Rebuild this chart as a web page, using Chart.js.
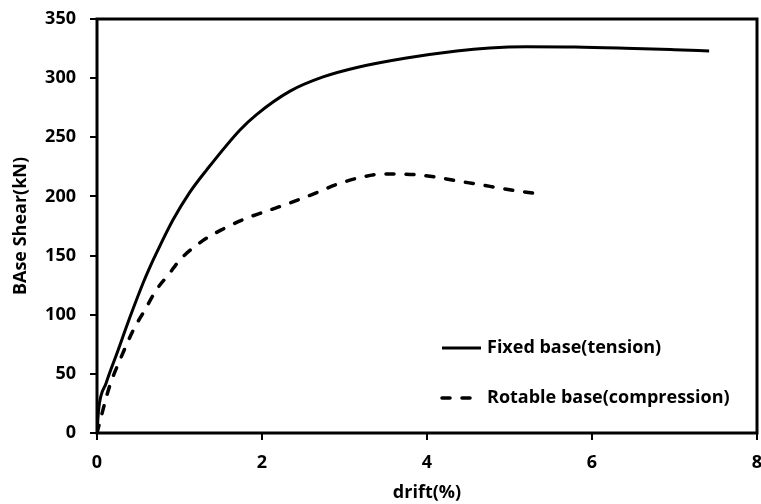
<!DOCTYPE html>
<html>
<head>
<meta charset="utf-8">
<script src="https://cdn.jsdelivr.net/npm/chart.js@4.4.1/dist/chart.umd.min.js"></script>
<style>
  html, body { margin: 0; padding: 0; background: #fff; }
  #wrap { width: 761px; height: 504px; }
</style>
</head>
<body>
<div id="wrap"><canvas id="grafico" width="761" height="504"></canvas></div>
<script>
// datos
const fixedDrift = [0, 0.02, 0.11, 0.24, 0.40, 0.56, 0.64, 0.72, 0.92, 1.12, 1.33, 1.73, 1.93, 2.34, 2.74, 3.15, 3.75, 4.36, 4.76, 5.2, 5.8, 6.4, 7.0, 7.42];
const fixedShear = [0, 20, 42, 67, 98, 127, 140, 152, 180, 203, 222.5, 256, 269, 289, 301, 309, 317, 323, 325.5, 326.5, 326.3, 325.3, 324, 323];

const rotDrift = [0, 0.15, 0.28, 0.44, 0.58, 0.72, 0.88, 1.0, 1.29, 1.53, 1.81, 2.10, 2.32, 2.62, 2.90, 3.19, 3.47, 3.75, 4.06, 4.34, 4.64, 4.92, 5.29];
const rotShear = [0, 39, 62, 87, 104, 121, 135, 146, 163, 172.5, 181.5, 188.6, 194, 202, 210, 216, 219, 218.8, 216.8, 213.4, 210, 206.6, 202.7];

const seriesNames = ['Fixed base(tension)', 'Rotable base(compression)'];
const xTicks = [0, 2, 4, 6, 8];
const yTicks = [0, 50, 100, 150, 200, 250, 300, 350];

const toPoints = (xs, ys) => xs.map((x, i) => ({ x: x, y: ys[i] }));

const FONT = '"Open Sans", sans-serif';
const SIZE = 18;

// marco completo alrededor del area de trazado
const marco = {
    id: 'marco',
    afterDraw(chart) {
        const a = chart.chartArea;
        const ctx = chart.ctx;
        ctx.save();
        ctx.strokeStyle = '#000';
        ctx.lineWidth = 3;
        ctx.strokeRect(a.left, a.top, a.right - a.left, a.bottom - a.top);
        ctx.restore();
    }
};

// leyenda dentro del area, abajo a la derecha
const leyenda = {
    id: 'leyenda',
    afterDraw(chart) {
        const ctx = chart.ctx;
        ctx.save();
        ctx.font = 'bold ' + SIZE + 'px ' + FONT;
        ctx.textBaseline = 'middle';
        ctx.fillStyle = '#000';
        chart.data.datasets.forEach((ds, i) => {
            const y = 348 + i * 50;
            ctx.beginPath();
            ctx.strokeStyle = ds.borderColor;
            ctx.lineWidth = ds.borderWidth;
            ctx.lineCap = ds.borderCapStyle || 'butt';
            ctx.setLineDash(ds.borderDash || []);
            ctx.moveTo(442, y);
            ctx.lineTo(481, y);
            ctx.stroke();
            ctx.setLineDash([]);
            ctx.fillText(ds.label, 487, y);
        });
        ctx.restore();
    }
};

const sinRelleno = axis => {
    axis.paddingTop = 0;
    axis.paddingRight = 0;
    axis.paddingLeft = 0;
    axis.paddingBottom = 0;
};

const ctx = document.getElementById('grafico').getContext('2d');
new Chart(ctx, {
    type: 'scatter',
    data: {
        datasets: [{
            label: seriesNames[0],
            data: toPoints(fixedDrift, fixedShear),
            showLine: true,
            borderColor: '#000',
            borderWidth: 3,
            pointRadius: 0,
            cubicInterpolationMode: 'monotone',
            fill: false
        }, {
            label: seriesNames[1],
            data: toPoints(rotDrift, rotShear),
            showLine: true,
            borderColor: '#000',
            borderWidth: 3.5,
            borderDash: [8, 12],
            borderCapStyle: 'round',
            pointRadius: 0,
            cubicInterpolationMode: 'monotone',
            fill: false
        }]
    },
    options: {
        responsive: false,
        animation: false,
        layout: { padding: { left: 0, top: 19, right: 4, bottom: 0 } },
        plugins: {
            legend: { display: false },
            tooltip: { enabled: false }
        },
        scales: {
            x: {
                type: 'linear',
                min: 0,
                max: 8,
                afterBuildTicks: axis => { axis.ticks = xTicks.map(v => ({ value: v })); },
                afterFit: axis => { axis.height = 71; sinRelleno(axis); },
                border: { display: false },
                grid: { drawOnChartArea: false, drawTicks: true, tickLength: 7, color: '#000', lineWidth: 2 },
                ticks: { color: '#000', padding: 12, maxRotation: 0, font: { family: FONT, size: SIZE, weight: 'bold' } },
                title: {
                    display: true,
                    text: 'drift(%)',
                    color: '#000',
                    padding: { top: 0, bottom: 0 },
                    font: { family: FONT, size: SIZE, weight: 'bold' }
                }
            },
            y: {
                type: 'linear',
                min: 0,
                max: 350,
                afterBuildTicks: axis => { axis.ticks = yTicks.map(v => ({ value: v })); },
                afterFit: axis => { axis.width = 97; sinRelleno(axis); },
                border: { display: false },
                grid: { drawOnChartArea: false, drawTicks: true, tickLength: 7, color: '#000', lineWidth: 2 },
                ticks: { color: '#000', padding: 14, font: { family: FONT, size: SIZE, weight: 'bold' } },
                title: {
                    display: true,
                    text: 'BAse Shear(kN)',
                    color: '#000',
                    padding: { top: 10, bottom: 0 },
                    font: { family: FONT, size: SIZE, weight: 'bold' }
                }
            }
        }
    },
    plugins: [marco, leyenda]
});
</script>
</body>
</html>
